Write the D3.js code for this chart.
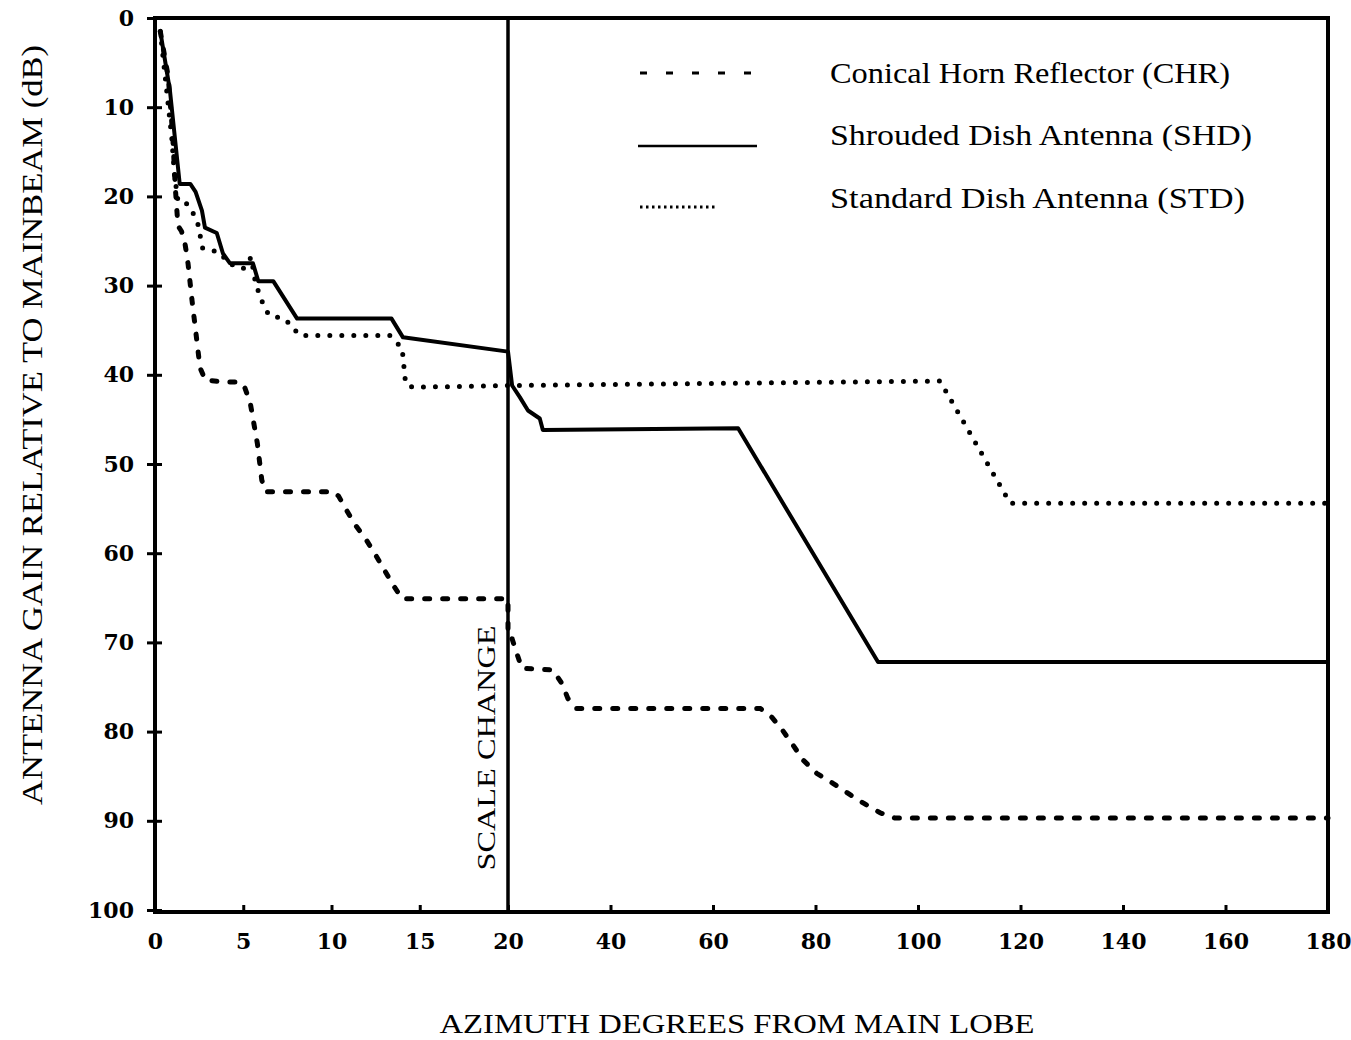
<!DOCTYPE html>
<html>
<head>
<meta charset="utf-8">
<script src="https://cdn.jsdelivr.net/npm/d3@7"></script>
<style>
    body { margin: 0; background: #fff; }
    svg { display: block; }
    .tick text { font-family: "DejaVu Serif", serif; font-weight: bold; font-size: 22px; fill: #000; }
    .title { font-family: "Liberation Serif", "Times New Roman", serif; fill: #000; }
</style>
</head>
<body>
<svg id="chart" width="1351" height="1040"></svg>
<script>

// [azimuth degrees, dB below mainbeam]
const chrPoints = [
    [0.3, 1.5], [0.75, 6.6], [1.0, 13], [1.15, 19], [1.3, 23.3], [1.5, 23.9], [1.7, 25.3],
    [1.87, 27.5], [2.1, 31.7], [2.3, 35], [2.55, 39.2], [2.85, 40.6], [3.85, 40.8], [4.8, 40.8],
    [5.1, 41.5], [5.4, 43.2], [5.8, 47.7], [6.05, 51.8], [6.25, 53.1], [10.1, 53.1], [10.4, 53.6],
    [10.8, 55], [11.3, 56.7], [12, 58.6], [12.5, 60.2], [13, 61.9], [13.5, 63.6], [14, 65.1],
    [20, 65.1], [20, 69.4], [20.8, 69.6], [21.7, 71.2], [22.7, 72.9], [28.8, 73.1], [30.5, 74.6],
    [31.7, 76.3], [33.4, 77.4], [69.2, 77.4], [71.5, 78.4], [73.5, 79.8], [75.6, 81.5],
    [77.6, 83.2], [80.3, 84.7], [83.4, 85.8], [86.3, 86.9], [89.3, 88], [92.6, 89.1],
    [95.5, 89.7], [180, 89.7]
];

const shdPoints = [
    [0.3, 1.5], [0.85, 8.2], [1.4, 18.6], [2.0, 18.6], [2.3, 19.5], [2.66, 21.6], [2.83, 23.5],
    [3.5, 24.1], [3.85, 26.4], [4.25, 27.5], [5.55, 27.5], [5.85, 29.5], [6.7, 29.5],
    [8.05, 33.7], [13.4, 33.7], [14.05, 35.8], [20, 37.4], [20.8, 41.2], [22.3, 42.5],
    [23.9, 44], [26.2, 44.9], [26.8, 46.2], [64.9, 46], [92.2, 72.2], [180, 72.2]
];

const stdPoints = [
    [0.3, 1.5], [0.95, 13.4], [1.1, 17.5], [1.3, 20.5], [1.7, 20.6], [2.0, 21.3], [2.4, 22.8],
    [2.7, 25.8], [3.7, 26.3], [4.15, 27.5], [5.0, 28.1], [5.45, 26.8], [5.7, 29.8], [6.2, 32.5],
    [6.5, 33.4], [7.35, 33.7], [8.2, 35.6], [13.3, 35.6], [14.0, 37], [14.2, 41], [14.6, 41.4],
    [20, 41.2], [104.3, 40.7], [118, 54.4], [180, 54.4]
];

const xTicks = [0, 5, 10, 15, 20, 40, 60, 80, 100, 120, 140, 160, 180];
const yTicks = [0, 10, 20, 30, 40, 50, 60, 70, 80, 90, 100];

const legendLabels = [
    "Conical Horn Reflector (CHR)",
    "Shrouded Dish Antenna (SHD)",
    "Standard Dish Antenna (STD)"
];

const LEFT = 155, RIGHT = 1328, TOP = 18, BOTTOM = 912;
const svg = d3.select("#chart");

// scale change at 20 degrees: 0-20 on the left part, 20-180 on the right
const x = d3.scaleLinear().domain([0, 20, 180]).range([LEFT, 508, RIGHT]);
const y = d3.scaleLinear().domain([0, 100]).range([TOP, 910]);

const line = d3.line().x(d => x(d[0])).y(d => y(d[1]));

// axes
const xAxis = svg.append("g")
    .attr("transform", "translate(0," + BOTTOM + ")")
    .call(d3.axisBottom(x).tickValues(xTicks).tickSize(-7).tickPadding(21).tickFormat(d3.format("d")));
xAxis.select(".domain").remove();
xAxis.selectAll(".tick line").attr("stroke", "#000").attr("stroke-width", 3);

const yAxis = svg.append("g")
    .attr("transform", "translate(" + LEFT + ",0)")
    .call(d3.axisLeft(y).tickValues(yTicks).tickSize(8).tickPadding(13).tickFormat(d3.format("d")));
yAxis.select(".domain").remove();
yAxis.selectAll(".tick line").attr("x1", 7).attr("stroke", "#000").attr("stroke-width", 3);

// frame and scale change line
svg.append("rect")
    .attr("x", LEFT).attr("y", TOP)
    .attr("width", RIGHT - LEFT).attr("height", BOTTOM - TOP)
    .attr("fill", "none").attr("stroke", "#000").attr("stroke-width", 4);

svg.append("line")
    .attr("x1", x(20)).attr("x2", x(20))
    .attr("y1", TOP).attr("y2", BOTTOM)
    .attr("stroke", "#000").attr("stroke-width", 3.5);

// series
svg.append("path").datum(shdPoints)
    .attr("d", line).attr("fill", "none")
    .attr("stroke", "#000").attr("stroke-width", 4).attr("stroke-linejoin", "round");

svg.append("path").datum(chrPoints)
    .attr("d", line).attr("fill", "none")
    .attr("stroke", "#000").attr("stroke-width", 5)
    .attr("stroke-linecap", "round").attr("stroke-dasharray", "5,13");

svg.append("path").datum(stdPoints)
    .attr("d", line).attr("fill", "none")
    .attr("stroke", "#000").attr("stroke-width", 5)
    .attr("stroke-linecap", "round").attr("stroke-dasharray", "0,12");

// legend
const legendY = [73, 135, 198];
const legendLineY = [73, 146, 207];

svg.append("line")
    .attr("x1", 640).attr("x2", 751).attr("y1", legendLineY[0]).attr("y2", legendLineY[0])
    .attr("stroke", "#000").attr("stroke-width", 3).attr("stroke-dasharray", "7,19");
svg.append("line")
    .attr("x1", 638).attr("x2", 757).attr("y1", legendLineY[1]).attr("y2", legendLineY[1])
    .attr("stroke", "#000").attr("stroke-width", 2.5);
svg.append("line")
    .attr("x1", 640).attr("x2", 715).attr("y1", legendLineY[2]).attr("y2", legendLineY[2])
    .attr("stroke", "#000").attr("stroke-width", 3).attr("stroke-dasharray", "2.5,3.5");

const legendWidths = [400, 422, 415];
svg.selectAll(".legend-text")
    .data(legendLabels)
    .enter().append("text")
    .attr("class", "title legend-text")
    .attr("x", 830)
    .attr("y", (d, i) => legendY[i])
    .attr("dy", "0.35em")
    .attr("font-size", 29)
    .attr("textLength", (d, i) => legendWidths[i])
    .attr("lengthAdjust", "spacingAndGlyphs")
    .text(d => d);

// titles
svg.append("text")
    .attr("class", "title")
    .attr("x", 737).attr("y", 1033)
    .attr("text-anchor", "middle")
    .attr("font-size", 28)
    .attr("textLength", 595).attr("lengthAdjust", "spacingAndGlyphs")
    .text("AZIMUTH DEGREES FROM MAIN LOBE");

svg.append("text")
    .attr("class", "title")
    .attr("transform", "translate(42,425) rotate(-90)")
    .attr("text-anchor", "middle")
    .attr("font-size", 29)
    .attr("textLength", 760).attr("lengthAdjust", "spacingAndGlyphs")
    .text("ANTENNA GAIN RELATIVE TO MAINBEAM (dB)");

svg.append("text")
    .attr("class", "title")
    .attr("transform", "translate(495,748) rotate(-90)")
    .attr("text-anchor", "middle")
    .attr("font-size", 25)
    .attr("textLength", 245).attr("lengthAdjust", "spacingAndGlyphs")
    .text("SCALE CHANGE");

</script>
</body>
</html>
